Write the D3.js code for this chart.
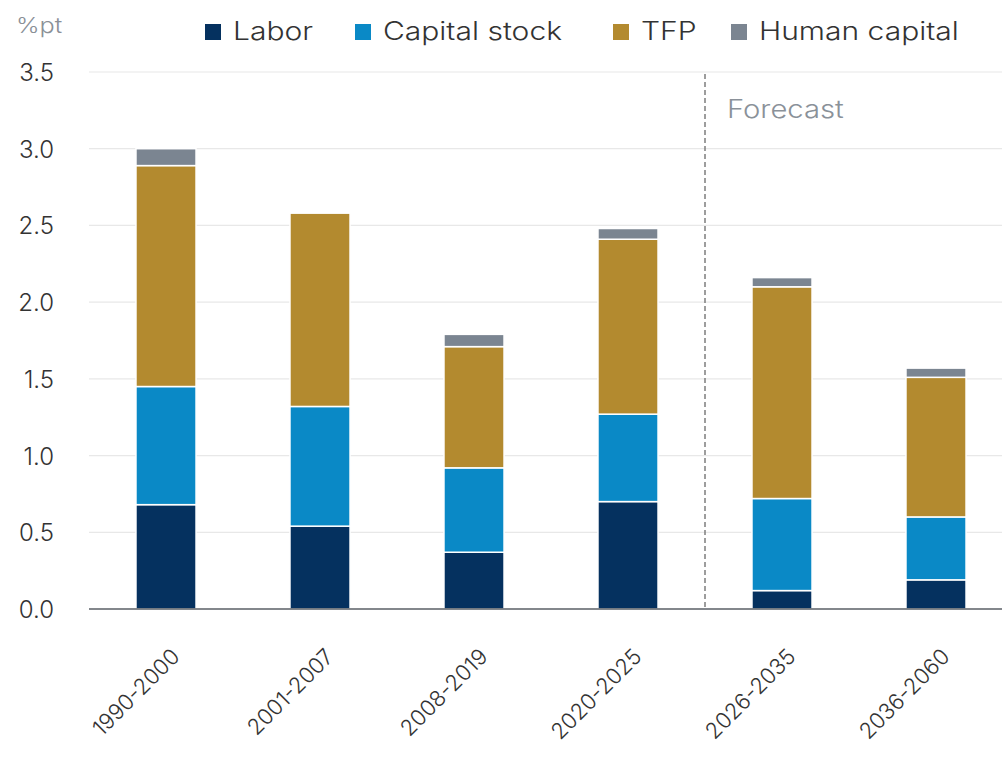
<!DOCTYPE html>
<html>
<head>
<meta charset="utf-8">
<script src="https://cdn.jsdelivr.net/npm/d3@7"></script>
<style>
  body { margin: 0; background: #fff; }
  svg text { font-family: "Inter", "Noto Sans", sans-serif; }
</style>
</head>
<body>
<div id="chart"></div>
<script>
// periods on the x axis
const periods = ["1990-2000", "2001-2007", "2008-2019", "2020-2025", "2026-2035", "2036-2060"];
// contributions, %pt
const labor = [0.68, 0.54, 0.37, 0.70, 0.12, 0.19];
const capitalStock = [0.77, 0.78, 0.55, 0.57, 0.60, 0.41];
const tfp = [1.44, 1.26, 0.79, 1.14, 1.38, 0.91];
const humanCapital = [0.11, 0.00, 0.08, 0.07, 0.06, 0.06];
const seriesNames = ["Labor", "Capital stock", "TFP", "Human capital"];
const yTicks = [0, 0.5, 1.0, 1.5, 2.0, 2.5, 3.0, 3.5];

const colors = ["#05315f", "#0a89c6", "#b38a2f", "#7b8591"];

const width = 1002, height = 767;
const svg = d3.select("#chart").append("svg")
    .attr("width", width)
    .attr("height", height);

const rows = periods.map((p, i) => ({
    period: p,
    "Labor": labor[i],
    "Capital stock": capitalStock[i],
    "TFP": tfp[i],
    "Human capital": humanCapital[i]
}));

const stacked = d3.stack().keys(seriesNames)(rows);

const x = d3.scaleBand()
    .domain(periods)
    .range([89, 1013])
    .paddingInner(0.61)
    .paddingOuter(0.305);

const y = d3.scaleLinear()
    .domain([0, 3.5])
    .range([609, 72]);

// gridlines
svg.append("g")
    .selectAll("line")
    .data(yTicks.filter(d => d > 0))
    .join("line")
    .attr("x1", 89)
    .attr("x2", width)
    .attr("y1", d => y(d))
    .attr("y2", d => y(d))
    .attr("stroke", "#e8e8e8")
    .attr("stroke-width", 1.2);

// y tick labels
svg.append("g")
    .selectAll("text")
    .data(yTicks)
    .join("text")
    .attr("x", 54)
    .attr("y", d => y(d) + 9)
    .attr("text-anchor", "end")
    .attr("font-size", 24)
    .attr("font-weight", 300)
    .attr("fill", "#333")
    .text(d => d.toFixed(1));

svg.append("text")
    .attr("transform", "translate(16,33) scale(1.2,1)")
    .attr("font-size", 21)
    .attr("font-weight", 300)
    .attr("fill", "#8a9097")
    .text("%pt");

// forecast divider
const divX = (x(periods[3]) + x.bandwidth() + x(periods[4])) / 2;
svg.append("line")
    .attr("x1", divX)
    .attr("x2", divX)
    .attr("y1", y(3.5) + 2)
    .attr("y2", y(0))
    .attr("stroke", "#7d7d7d")
    .attr("stroke-width", 1.5)
    .attr("stroke-dasharray", "5,3");

svg.append("text")
    .attr("transform", `translate(${divX + 22},118) scale(1.17,1)`)
    .attr("font-size", 25)
    .attr("font-weight", 300)
    .attr("fill", "#8a9199")
    .text("Forecast");

// bars
svg.append("g")
    .selectAll("g")
    .data(stacked)
    .join("g")
    .attr("fill", (d, i) => colors[i])
    .selectAll("rect")
    .data(d => d.filter(s => s[1] - s[0] > 0))
    .join("rect")
    .attr("x", d => x(d.data.period))
    .attr("width", x.bandwidth())
    .attr("y", d => y(d[1]))
    .attr("height", d => y(d[0]) - y(d[1]))
    .attr("stroke", "#fff")
    .attr("stroke-width", 1.5);

// baseline
svg.append("line")
    .attr("x1", 89)
    .attr("x2", width)
    .attr("y1", y(0))
    .attr("y2", y(0))
    .attr("stroke", "#5a5f66")
    .attr("stroke-width", 1.5);

// x labels
svg.append("g")
    .selectAll("text")
    .data(periods)
    .join("text")
    .attr("transform", d => `translate(${x(d) + x.bandwidth() / 2 + 15},${658}) rotate(-45)`)
    .attr("text-anchor", "end")
    .attr("font-size", 22)
    .attr("font-weight", 300)
    .attr("fill", "#333")
    .text(d => d);

// legend
const legendX = [205, 355, 613, 731];
const legend = svg.append("g")
    .selectAll("g")
    .data(seriesNames)
    .join("g")
    .attr("transform", (d, i) => `translate(${legendX[i]},22)`);

legend.append("rect")
    .attr("width", 16)
    .attr("height", 16)
    .attr("y", 2)
    .attr("fill", (d, i) => colors[i]);

legend.append("text")
    .attr("transform", "translate(28,18) scale(1.2,1)")
    .attr("font-size", 25)
    .attr("font-weight", 300)
    .attr("fill", "#333")
    .text(d => d);
</script>
</body>
</html>
